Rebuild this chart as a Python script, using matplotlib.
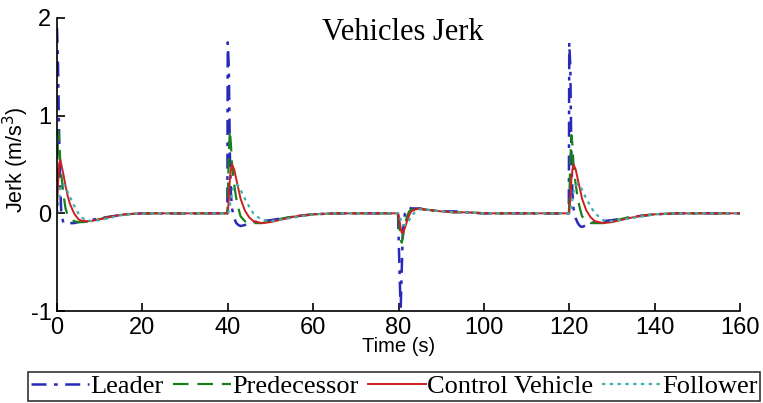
import matplotlib
matplotlib.use("Agg")
import matplotlib.pyplot as plt

plt.rcParams["axes.unicode_minus"] = False

# ---- data ----
TIME = [0, 0.25, 0.5, 0.75, 1.0, 1.5, 2.0, 2.5, 3.0, 4.0, 5.0, 6.0, 8.0, 10.0, 13.0, 16.0, 20.0, 25.0,
        39.9, 40.0, 40.25, 40.5, 40.75, 41.0, 41.5, 42.0, 42.5, 43.0, 44.0, 45.0, 46.0, 48.0, 50.0, 53.0, 56.0, 60.0, 65.0,
        79.9, 80.0, 80.25, 80.5, 80.75, 81.0, 81.5, 82.0, 82.5, 83.0, 84.0, 85.0, 86.0, 88.0, 90.0, 93.0, 96.0, 100.0, 105.0,
        119.9, 120.0, 120.25, 120.5, 120.75, 121.0, 121.5, 122.0, 122.5, 123.0, 124.0, 125.0, 126.0, 128.0, 130.0, 133.0, 136.0, 140.0, 145.0,
        160.0]

LEADER = [1.9, 1.5, 0.8, 0.3, 0.0, -0.1, -0.1, -0.1, -0.1, -0.1, -0.09, -0.08, -0.07, -0.05, -0.03, -0.01, 0.0, 0.0,
          0.0, 1.75, 1.5, 0.6, 0.2, 0.05, -0.05, -0.1, -0.12, -0.13, -0.12, -0.1, -0.09, -0.08, -0.07, -0.05, -0.03, -0.01, 0.0,
          0.0, -0.2, -0.6, -1.0, -0.6, -0.2, 0.0, 0.04, 0.06, 0.05, 0.05, 0.05, 0.04, 0.03, 0.02, 0.02, 0.01, 0.0, 0.0,
          0.0, 1.75, 1.5, 0.6, 0.2, 0.05, -0.05, -0.1, -0.13, -0.14, -0.12, -0.1, -0.09, -0.08, -0.07, -0.05, -0.03, -0.01, 0.0,
          0.0]

PREDECESSOR = [0.3, 0.85, 0.75, 0.55, 0.4, 0.2, 0.05, -0.02, -0.05, -0.08, -0.09, -0.09, -0.08, -0.06, -0.03, -0.01, 0.0, 0.0,
               0.0, 0.1, 0.6, 0.85, 0.7, 0.5, 0.3, 0.15, 0.05, -0.03, -0.08, -0.1, -0.1, -0.1, -0.08, -0.05, -0.03, -0.01, 0.0,
               0.0, -0.05, -0.15, -0.25, -0.3, -0.25, -0.12, -0.03, 0.02, 0.04, 0.05, 0.05, 0.04, 0.03, 0.02, 0.01, 0.01, 0.0, 0.0,
               0.0, 0.1, 0.55, 0.8, 0.7, 0.5, 0.3, 0.15, 0.05, -0.03, -0.08, -0.1, -0.1, -0.1, -0.08, -0.05, -0.03, -0.01, 0.0,
               0.0]

CONTROL = [0.05, 0.3, 0.5, 0.55, 0.5, 0.4, 0.28, 0.18, 0.1, 0.0, -0.06, -0.08, -0.08, -0.06, -0.03, -0.01, 0.0, 0.0,
           0.0, 0.0, 0.15, 0.35, 0.45, 0.5, 0.45, 0.35, 0.25, 0.15, 0.03, -0.04, -0.08, -0.1, -0.09, -0.06, -0.03, -0.01, 0.0,
           0.0, -0.02, -0.08, -0.15, -0.2, -0.2, -0.15, -0.08, -0.02, 0.02, 0.04, 0.05, 0.04, 0.03, 0.02, 0.01, 0.01, 0.0, 0.0,
           0.0, 0.0, 0.15, 0.35, 0.45, 0.5, 0.45, 0.35, 0.25, 0.15, 0.03, -0.04, -0.08, -0.1, -0.09, -0.06, -0.03, -0.01, 0.0,
           0.0]

FOLLOWER = [0.0, 0.05, 0.15, 0.25, 0.3, 0.3, 0.27, 0.22, 0.17, 0.08, 0.0, -0.05, -0.08, -0.07, -0.04, -0.01, 0.0, 0.0,
            0.0, 0.0, 0.02, 0.08, 0.15, 0.22, 0.28, 0.3, 0.28, 0.24, 0.15, 0.07, 0.0, -0.07, -0.08, -0.06, -0.04, -0.01, 0.0,
            0.0, 0.0, -0.03, -0.06, -0.1, -0.12, -0.12, -0.1, -0.07, -0.03, 0.02, 0.04, 0.04, 0.03, 0.02, 0.01, 0.01, 0.0, 0.0,
            0.0, 0.0, 0.02, 0.08, 0.15, 0.22, 0.28, 0.3, 0.28, 0.24, 0.15, 0.07, 0.0, -0.07, -0.08, -0.06, -0.04, -0.01, 0.0,
            0.0]

SERIES_NAMES = ["Leader", "Predecessor", "Control Vehicle", "Follower"]
X_TICKS = [0, 20, 40, 60, 80, 100, 120, 140, 160]
Y_TICKS = [-1, 0, 1, 2]

# ---- figure ----
fig = plt.figure(figsize=(7.63, 4.03), dpi=100)
ax = fig.add_axes([57 / 763, 1 - 311 / 403, (740 - 57) / 763, (311 - 18) / 403])

styles = [
    dict(color="#2a2ab8", linestyle=(0, (6, 3, 1.5, 3)), linewidth=1.8),
    dict(color="#1a801a", linestyle=(0, (7, 4)), linewidth=1.6),
    dict(color="#cc2020", linestyle="-", linewidth=1.4),
    dict(color="#40b0b0", linestyle=(0, (1.5, 2)), linewidth=1.6),
]
for vals, name, st in zip([LEADER, PREDECESSOR, CONTROL, FOLLOWER], SERIES_NAMES, styles):
    ax.plot(TIME, vals, label=name, **st)

ax.set_xlim(0, 160)
ax.set_ylim(-1, 2)
ax.set_xticks(X_TICKS)
ax.set_yticks(Y_TICKS)
ax.spines["top"].set_visible(False)
ax.spines["right"].set_visible(False)
for s in ("left", "bottom"):
    ax.spines[s].set_linewidth(1.2)
ax.tick_params(direction="in", length=6, width=1.2, labelsize=17, pad=4)
for lab in ax.get_xticklabels() + ax.get_yticklabels():
    lab.set_family("Liberation Sans")

ax.set_xlabel("Time (s)", fontsize=14.5, family="Liberation Sans", labelpad=-1)
ylab = ax.set_ylabel("Jerk (m/s$^3$)", fontsize=15.5, family="Liberation Sans")
ylab.set_verticalalignment("center")
ax.yaxis.set_label_coords(-0.060, 0.515)
ax.text(0.5 * (322 + 483) / 763, 1 - 32 / 403, "Vehicles Jerk", transform=fig.transFigure,
        ha="center", va="center", fontsize=22, family="Liberation Serif")

leg = fig.legend(loc="lower left", bbox_to_anchor=(28 / 763, 2 / 403, (760 - 28) / 763, (401 - 367) / 403),
                 mode="expand", ncol=4, frameon=True, fancybox=False, edgecolor="black",
                 prop={"family": "Liberation Serif", "size": 19}, handlelength=2.2, handletextpad=0.05,
                 columnspacing=0.1, borderpad=0.1, borderaxespad=0)
leg.get_frame().set_linewidth(1.2)

fig.savefig("out.png", dpi=100)
